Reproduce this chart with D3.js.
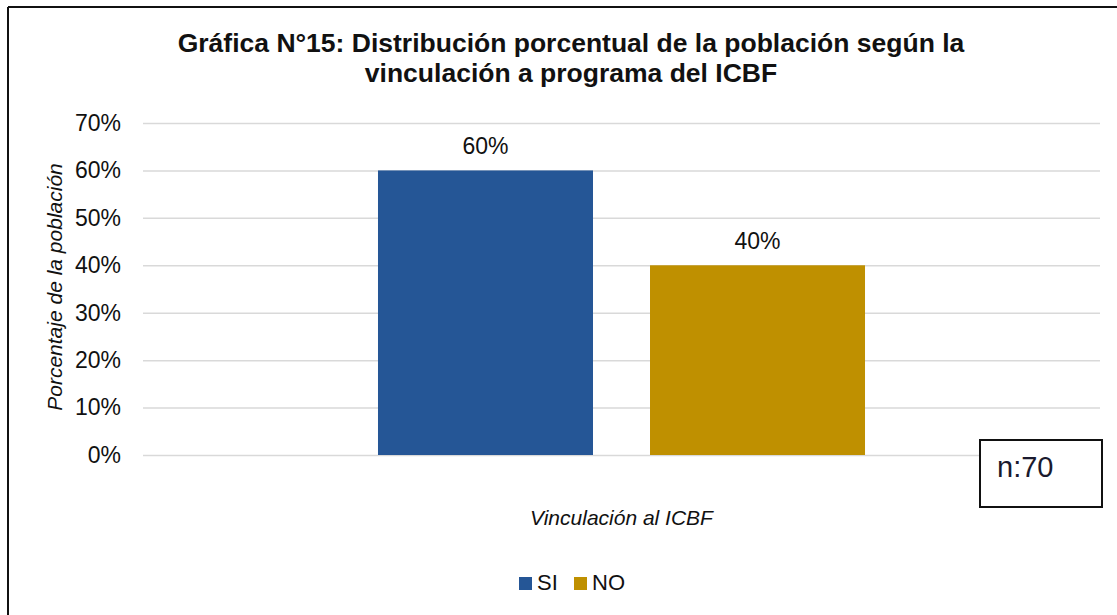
<!DOCTYPE html>
<html>
<head>
<meta charset="utf-8">
<script src="https://cdn.jsdelivr.net/npm/d3@7"></script>
<style>
  body { margin: 0; background: #fff; }
  svg { display: block; }
</style>
</head>
<body>
<svg id="chart" width="1117" height="615"></svg>
<script>
// data
var categories = ["Vinculación al ICBF"];
var seriesNames = ["SI", "NO"];
var seriesValues = [0.60, 0.40];
var seriesColors = ["#255696", "#bf9000"];
var yTicks = [0, 0.1, 0.2, 0.3, 0.4, 0.5, 0.6, 0.7];
var titleLines = ["Gráfica N°15: Distribución porcentual de la población según la",
                  "vinculación a programa del ICBF"];
var sampleNote = "n:70";

var FONT = "Arial, 'Liberation Sans', sans-serif";

var svg = d3.select("#chart");
var margin = {top: 123, right: 17, bottom: 160, left: 143};
var width = +svg.attr("width");
var height = +svg.attr("height");
var innerWidth = width - margin.left - margin.right;
var innerHeight = 455 - margin.top;

// outer frame: only the top and left edges fall inside the picture
svg.append("line")
  .attr("x1", 8).attr("y1", 7).attr("x2", width).attr("y2", 7)
  .attr("stroke", "#111").attr("stroke-width", 2);
svg.append("line")
  .attr("x1", 8).attr("y1", 7).attr("x2", 8).attr("y2", height)
  .attr("stroke", "#111").attr("stroke-width", 2);

// title
svg.append("g").selectAll("text")
  .data(titleLines)
  .enter().append("text")
  .attr("x", 571)
  .attr("y", (d, i) => 52 + i * 30)
  .attr("text-anchor", "middle")
  .style("font-family", FONT)
  .style("font-weight", "bold")
  .style("font-size", "26.5px")
  .style("fill", "#111")
  .text(d => d);

var g = svg.append("g")
  .attr("transform", "translate(" + margin.left + "," + margin.top + ")");

var y = d3.scaleLinear().domain([0, 0.7]).range([innerHeight, 0]);

var x0 = d3.scaleBand()
  .domain(categories)
  .range([0, innerWidth])
  .paddingInner(0)
  .paddingOuter(0.4825);

var x1 = d3.scaleBand()
  .domain(seriesNames)
  .range([0, x0.bandwidth()])
  .paddingInner(0.2096)
  .paddingOuter(0);

// gridlines
var yGrid = d3.axisLeft(y).tickValues(yTicks).tickSize(-innerWidth).tickFormat("");
g.append("g")
  .attr("class", "grid")
  .call(yGrid)
  .call(s => s.select(".domain").remove())
  .call(s => s.selectAll("line").attr("stroke", "#d9d9d9").attr("stroke-width", 1.5));

// y axis labels
g.append("g")
  .call(d3.axisLeft(y).tickValues(yTicks).tickSize(0).tickPadding(22).tickFormat(d3.format(".0%")))
  .call(s => s.select(".domain").remove())
  .call(s => s.selectAll("text")
    .style("font-size", "23px")
    .style("font-family", FONT)
    .style("fill", "#111"));

// bars
var bars = seriesNames.map((name, i) => ({name: name, value: seriesValues[i], color: seriesColors[i]}));

var gCat = g.append("g")
  .attr("transform", "translate(" + x0(categories[0]) + ",0)");

gCat.selectAll("rect.bar")
  .data(bars)
  .enter().append("rect")
  .attr("class", "bar")
  .attr("x", d => x1(d.name))
  .attr("y", d => y(d.value))
  .attr("width", x1.bandwidth())
  .attr("height", d => innerHeight - y(d.value))
  .attr("fill", d => d.color);

gCat.selectAll("text.label")
  .data(bars)
  .enter().append("text")
  .attr("class", "label")
  .attr("x", d => x1(d.name) + x1.bandwidth() / 2)
  .attr("y", d => y(d.value) - 16)
  .attr("text-anchor", "middle")
  .style("font-family", FONT)
  .style("font-size", "23px")
  .style("fill", "#111")
  .text(d => d3.format(".0%")(d.value));

// y axis title
svg.append("text")
  .attr("transform", "translate(62,287) rotate(-90)")
  .attr("text-anchor", "middle")
  .style("font-family", FONT)
  .style("font-style", "italic")
  .style("font-size", "21px")
  .style("fill", "#111")
  .text("Porcentaje de la población");

// x axis title
svg.append("text")
  .attr("x", margin.left + x0(categories[0]) + x0.bandwidth() / 2)
  .attr("y", 525)
  .attr("text-anchor", "middle")
  .style("font-family", FONT)
  .style("font-style", "italic")
  .style("font-size", "21px")
  .style("fill", "#111")
  .text(categories[0]);

// n box
svg.append("rect")
  .attr("x", 980).attr("y", 440)
  .attr("width", 122).attr("height", 67)
  .attr("fill", "white")
  .attr("stroke", "#111")
  .attr("stroke-width", 2);
svg.append("text")
  .attr("x", 997).attr("y", 477)
  .style("font-family", FONT)
  .style("font-size", "29px")
  .style("fill", "#1a1a2e")
  .text(sampleNote);

// legend
var legendX = [519, 574];
var legend = svg.append("g").selectAll("g")
  .data(bars)
  .enter().append("g")
  .attr("transform", (d, i) => "translate(" + legendX[i] + ",577)");
legend.append("rect")
  .attr("width", 13).attr("height", 13)
  .attr("fill", d => d.color);
legend.append("text")
  .attr("x", 18).attr("y", 13)
  .style("font-family", FONT)
  .style("font-size", "22px")
  .style("fill", "#111")
  .text(d => d.name);
</script>
</body>
</html>
